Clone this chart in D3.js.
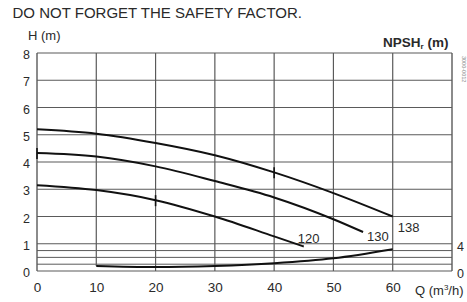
<!DOCTYPE html>
<html>
<head>
<meta charset="utf-8">
<script src="https://cdnjs.cloudflare.com/ajax/libs/d3/7.8.5/d3.min.js"></script>
<style>
  body { margin: 0; background: #fff; }
  svg { display: block; font-family: "Liberation Sans", Arial, sans-serif; }
</style>
</head>
<body>
<svg></svg>
<script>
// axis ticks
let qTicks = [0, 10, 20, 30, 40, 50, 60]
let hTicks = [0, 1, 2, 3, 4, 5, 6, 7, 8]
let npshTicks = [0, 4]
let npshGrid = [1, 2, 3]

// pump curves, H (m) against Q (m3/h)
let q138 = [0, 10, 20, 30, 40, 50, 60]
let h138 = [5.2, 5.04, 4.7, 4.25, 3.62, 2.86, 2.0]
let q130 = [0, 10, 20, 30, 40, 50, 55]
let h130 = [4.33, 4.2, 3.84, 3.3, 2.7, 1.9, 1.43]
let q120 = [0, 10, 20, 30, 40, 45]
let h120 = [3.15, 2.97, 2.6, 2.0, 1.27, 0.9]
let curveNames = ["138", "130", "120"]

// NPSHr curve (m)
let qNpsh = [10, 20, 30, 40, 50, 60]
let npsh = [0.75, 0.58, 0.75, 1.15, 1.87, 3.2]

// small vertical marks on the curves (Q, H)
let markQ = [0, 20, 40]
let markH = [4.33, 2.6, 3.62]

let width = 467
let height = 302

let svg = d3.select("svg")
    .attr("width", width)
    .attr("height", height)

let xScale = d3.scaleLinear().domain([0, 70]).range([37, 452])
let yScale = d3.scaleLinear().domain([0, 8]).range([271, 53])
let npshScale = d3.scaleLinear().domain([0, 32]).range([271, 53])

let gridColor = "#5a5a5a"
let textColor = "#2a2a2a"

// horizontal grid
svg.append("g").selectAll("line")
    .data(hTicks)
    .enter()
    .append("line")
    .attr("x1", xScale(0))
    .attr("x2", xScale(70))
    .attr("y1", d => yScale(d))
    .attr("y2", d => yScale(d))
    .attr("stroke", gridColor)
    .attr("stroke-width", 1.2)

svg.append("g").selectAll("line")
    .data(npshGrid)
    .enter()
    .append("line")
    .attr("x1", xScale(0))
    .attr("x2", xScale(70))
    .attr("y1", d => npshScale(d))
    .attr("y2", d => npshScale(d))
    .attr("stroke", gridColor)
    .attr("stroke-width", 1)

// vertical grid (the 10 line stops at the start of the NPSH curve)
svg.append("g").selectAll("line")
    .data(qTicks.concat([70]))
    .enter()
    .append("line")
    .attr("x1", d => xScale(d))
    .attr("x2", d => xScale(d))
    .attr("y1", yScale(8))
    .attr("y2", d => d == 10 ? npshScale(npsh[0]) : yScale(0))
    .attr("stroke", gridColor)
    .attr("stroke-width", d => (d == 0 || d == 70) ? 1.4 : 1.2)

// curves
let line = d3.line()
    .x(d => xScale(d[0]))
    .y(d => yScale(d[1]))
    .curve(d3.curveMonotoneX)

let curves = [
    d3.zip(q138, h138),
    d3.zip(q130, h130),
    d3.zip(q120, h120)
]

svg.append("g").selectAll("path")
    .data(curves)
    .enter()
    .append("path")
    .attr("d", line)
    .attr("fill", "none")
    .attr("stroke", "#111")
    .attr("stroke-width", 2)

let npshLine = d3.line()
    .x(d => xScale(d[0]))
    .y(d => npshScale(d[1]))
    .curve(d3.curveMonotoneX)

svg.append("path")
    .attr("d", npshLine(d3.zip(qNpsh, npsh)))
    .attr("fill", "none")
    .attr("stroke", "#111")
    .attr("stroke-width", 2)

svg.append("g").selectAll("line")
    .data(d3.zip(markQ, markH))
    .enter()
    .append("line")
    .attr("x1", d => xScale(d[0]))
    .attr("x2", d => xScale(d[0]))
    .attr("y1", d => yScale(d[1]) - 5)
    .attr("y2", d => yScale(d[1]) + 6)
    .attr("stroke", "#111")
    .attr("stroke-width", 1.6)

// curve labels, placed after the end of each curve
let ends = curves.map(c => c[c.length - 1])
svg.append("g").selectAll("text")
    .data(ends)
    .enter()
    .append("text")
    .attr("x", (d, i) => xScale(d[0]) + [5, 4, -6][i])
    .attr("y", (d, i) => yScale(d[1]) + [15, 9, -3][i])
    .attr("font-size", 13)
    .attr("fill", textColor)
    .text((d, i) => curveNames[i])

// axes
let xAxis = d3.axisBottom(xScale).tickValues(qTicks).tickSize(0).tickPadding(11)
let gx = svg.append("g")
    .attr("transform", "translate(0," + yScale(0) + ")")
    .call(xAxis)
gx.select(".domain").remove()
gx.selectAll("text").attr("font-size", 13.5).attr("fill", textColor).attr("font-family", null)

let yAxis = d3.axisLeft(yScale).tickValues(hTicks).tickSize(0).tickPadding(7)
let gy = svg.append("g")
    .attr("transform", "translate(" + xScale(0) + ",0)")
    .call(yAxis)
gy.select(".domain").remove()
gy.selectAll("text").attr("font-size", 12.5).attr("fill", textColor).attr("font-family", null).attr("dy", "0.45em")

let nAxis = d3.axisRight(npshScale).tickValues(npshTicks).tickSize(0).tickPadding(5)
let gn = svg.append("g")
    .attr("transform", "translate(" + xScale(70) + ",0)")
    .call(nAxis)
gn.select(".domain").remove()
gn.selectAll("text").attr("font-size", 12.5).attr("fill", textColor).attr("font-family", null).attr("dy", "0.5em")

// titles
svg.append("text")
    .attr("x", 12.5)
    .attr("y", 17.5)
    .attr("font-size", 15)
    .attr("fill", textColor)
    .text("DO NOT FORGET THE SAFETY FACTOR.")

svg.append("text")
    .attr("x", 28)
    .attr("y", 40)
    .attr("font-size", 13)
    .attr("fill", textColor)
    .text("H (m)")

let nt = svg.append("text")
    .attr("x", 383)
    .attr("y", 47)
    .attr("font-size", 13.5)
    .attr("font-weight", "bold")
    .attr("fill", textColor)
nt.append("tspan").text("NPSH")
nt.append("tspan").attr("font-size", 8).attr("dy", 2).text("r")
nt.append("tspan").attr("dy", -2).text(" (m)")

let qt = svg.append("text")
    .attr("x", 415)
    .attr("y", 295)
    .attr("font-size", 13)
    .attr("fill", textColor)
qt.append("tspan").text("Q (m")
qt.append("tspan").attr("font-size", 8).attr("dy", -5).text("3")
qt.append("tspan").attr("dy", 5).text("/h)")

svg.append("text")
    .attr("transform", "translate(462,56) rotate(90)")
    .attr("font-size", 5.5)
    .attr("fill", "#888")
    .text("3000-0012")
</script>
</body>
</html>
